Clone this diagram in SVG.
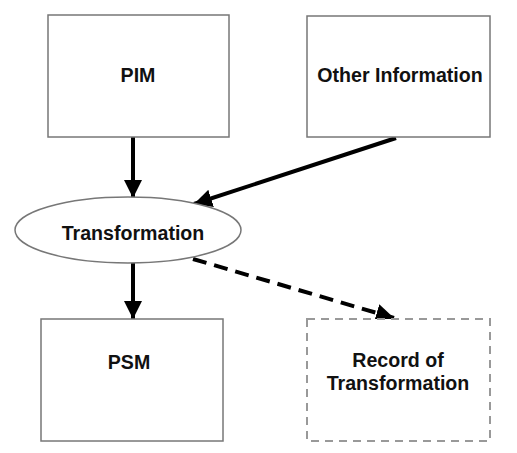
<svg xmlns="http://www.w3.org/2000/svg" width="517" height="453" viewBox="0 0 517 453">
<style>
.box{fill:#fff;stroke:#777;stroke-width:1.5}
.dbox{fill:#fff;stroke:#999;stroke-width:2;stroke-dasharray:8 6}
.lbl{font-family:"Liberation Sans",Arial,sans-serif;font-weight:bold;font-size:19.6px;fill:#111;text-anchor:middle}
.ar{stroke:#000;stroke-width:4;fill:none}
.dar{stroke:#000;stroke-width:4;fill:none;stroke-dasharray:14 8}
</style>
<defs>
<marker id="ah" markerUnits="userSpaceOnUse" markerWidth="20" markerHeight="20" refX="18" refY="9" orient="auto">
<path d="M0,0 L18,9 L0,18 Z" fill="#000"/>
</marker>
</defs>
<rect width="517" height="453" fill="#fff"/>
<g id="connectors">
<line class="ar" x1="133" y1="137" x2="133" y2="198" marker-end="url(#ah)"/>
<line class="ar" x1="396" y1="138" x2="194" y2="204" marker-end="url(#ah)"/>
<line class="ar" x1="133" y1="263" x2="133" y2="319" marker-end="url(#ah)"/>
<line class="dar" x1="193" y1="259" x2="394" y2="318" marker-end="url(#ah)"/>
</g>
<g id="pim">
<rect class="box" x="48" y="15" width="181" height="122"/>
<text class="lbl" x="138" y="82">PIM</text>
</g>
<g id="other">
<rect class="box" x="307" y="16" width="183" height="121"/>
<text class="lbl" x="400" y="82">Other Information</text>
</g>
<g id="transformation">
<ellipse class="box" cx="128" cy="230" rx="113" ry="33"/>
<text class="lbl" x="133" y="240">Transformation</text>
</g>
<g id="psm">
<rect class="box" x="41" y="319" width="182" height="122"/>
<text class="lbl" x="129" y="369">PSM</text>
</g>
<g id="record">
<rect class="dbox" x="307" y="319" width="183" height="122"/>
<text class="lbl" x="398" y="367">Record of</text>
<text class="lbl" x="398" y="390">Transformation</text>
</g>
</svg>
